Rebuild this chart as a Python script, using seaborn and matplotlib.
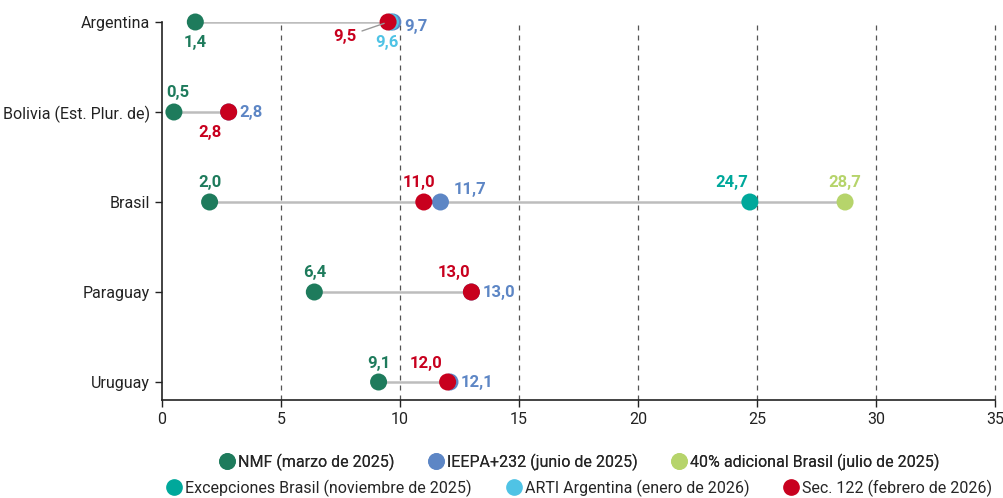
import matplotlib
matplotlib.use("Agg")
import matplotlib.pyplot as plt
from matplotlib.lines import Line2D
import seaborn as sns
import pandas as pd

# -------------------------------------------------
# Data: tariff rates (%) by country and measure
# -------------------------------------------------
countries = ["Argentina", "Bolivia (Est. Plur. de)", "Brasil", "Paraguay", "Uruguay"]
series = [
    "NMF (marzo de 2025)",
    "IEEPA+232 (junio de 2025)",
    "40% adicional Brasil (julio de 2025)",
    "Excepciones Brasil (noviembre de 2025)",
    "ARTI Argentina (enero de 2026)",
    "Sec. 122 (febrero de 2026)",
]
nmf = [1.4, 0.5, 2.0, 6.4, 9.1]
ieepa = [9.7, 2.8, 11.7, 13.0, 12.1]
adicional_brasil = [None, None, 28.7, None, None]
excepciones_brasil = [None, None, 24.7, None, None]
arti_argentina = [9.6, None, None, None, None]
sec122 = [9.5, 2.8, 11.0, 13.0, 12.0]

colors = ["#1E7B5C", "#5D86C5", "#B6D46B", "#00A89B", "#4FC3E5", "#C8001E"]

# build long table
rows = []
for name, vals in zip(series, [nmf, ieepa, adicional_brasil, excepciones_brasil, arti_argentina, sec122]):
    for c, v in zip(countries, vals):
        if v is not None:
            rows.append({"country": c, "serie": name, "value": v})
df = pd.DataFrame(rows)
df["ypos"] = df["country"].map({c: i for i, c in enumerate(countries)})

# label offsets in pixels (dx, dy, ha) per (country, serie index)
offsets = {
    (0, 0): (0, -20, "center"), (0, 1): (11, -4, "left"), (0, 4): (-4, -20, "center"), (0, 5): (-32, -15, "right"),
    (1, 0): (4, 19, "center"), (1, 1): (11, 0, "left"), (1, 5): (-19, -21, "center"),
    (2, 0): (0, 20, "center"), (2, 5): (-5, 20, "center"), (2, 1): (30, 13, "center"),
    (2, 3): (-18, 20, "center"), (2, 2): (0, 20, "center"),
    (3, 0): (0, 20, "center"), (3, 5): (-17, 20, "center"), (3, 1): (11, 0, "left"),
    (4, 0): (0, 19, "center"), (4, 5): (-22, 19, "center"), (4, 1): (11, 0, "left"),
}

sns.set_style("white")
plt.rcParams["font.family"] = ["Roboto", "DejaVu Sans"]

fig = plt.figure(figsize=(10.04, 4.98), dpi=100)
ax = fig.add_axes([162 / 1004, 1 - 400 / 498, 833 / 1004, 378 / 498])

# connecting gray lines
rng = df.groupby("ypos")["value"].agg(["min", "max"])
ax.hlines(rng.index, rng["min"], rng["max"], color="#BDBDBD", lw=1.8, zorder=2)

# vertical dashed gridlines
for xv in range(5, 36, 5):
    ax.axvline(xv, color="#555555", lw=0.9, ls=(0, (4, 4)), zorder=1, clip_on=False)

sns.scatterplot(data=df, x="value", y="ypos", hue="serie", hue_order=series,
                palette=colors, s=150, edgecolor="none", legend=False,
                zorder=3, clip_on=False, ax=ax)

# value labels
for _, r in df.iterrows():
    si = series.index(r["serie"])
    dx, dy, ha = offsets[(r["ypos"], si)]
    txt = f"{r['value']:.1f}".replace(".", ",")
    if (r["ypos"], si) == (0, 5):
        ax.annotate(txt, (r["value"], r["ypos"]), xytext=(dx, dy), textcoords="offset pixels",
                    ha=ha, va="center", color=colors[si], fontsize=12, fontweight="bold",
                    arrowprops=dict(arrowstyle="-", color="#999999", lw=1, shrinkA=2, shrinkB=3))
    else:
        ax.annotate(txt, (r["value"], r["ypos"]), xytext=(dx, dy), textcoords="offset pixels",
                    ha=ha, va="center", color=colors[si], fontsize=12, fontweight="bold")

ax.set_xlim(0, 35)
ax.set_ylim(4.2, 0)
ax.set_yticks(range(len(countries)))
ax.set_yticklabels(countries)
ax.set_xticks(range(0, 36, 5))
ax.set_xlabel("")
ax.set_ylabel("")
for side in ["top", "right"]:
    ax.spines[side].set_visible(False)
for side in ["left", "bottom"]:
    ax.spines[side].set_color("#222222")
    ax.spines[side].set_linewidth(1.2)
ax.tick_params(axis="both", which="major", length=5, width=1, color="#222222",
               labelsize=11.5, labelcolor="#222222", left=True, bottom=True)

# legend in two rows
handles = [Line2D([], [], marker="o", ls="", color=c, markersize=11) for c in colors]
center = (162 + 995) / 2 / 1004
leg1 = fig.legend(handles[:3], series[:3], ncol=3, loc="center", bbox_to_anchor=(center, 1 - 462 / 498),
                  frameon=False, fontsize=11.5, handletextpad=0.1, columnspacing=2.0, handlelength=1.2)
fig.legend(handles[3:], series[3:], ncol=3, loc="center", bbox_to_anchor=(center, 1 - 488 / 498),
           frameon=False, fontsize=11.5, handletextpad=0.1, columnspacing=2.0, handlelength=1.2)
fig.add_artist(leg1)

fig.savefig("out.png", dpi=100)
